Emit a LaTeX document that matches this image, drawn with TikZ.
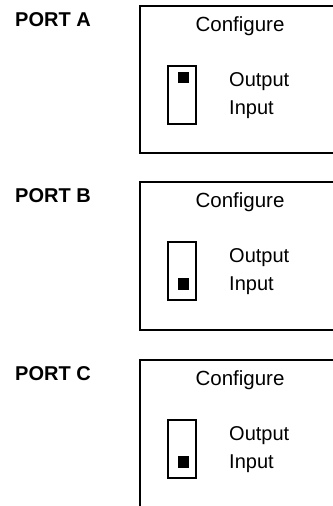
\documentclass[tikz,border=0pt]{standalone}
\usepackage{fontspec}
\setmainfont{Liberation Sans}
\begin{document}
\begin{tikzpicture}[x=1bp,y=-1bp,
  frame/.style={line width=2bp},
  sw/.style={draw,line width=1.8bp,minimum width=28bp,minimum height=57.5bp,inner sep=0pt},
  knob/.style={fill=black,minimum size=11.5bp,inner sep=0pt},
  lbl/.style={inner sep=0pt,anchor=base west,font=\fontsize{20bp}{22bp}\selectfont},
  port/.style={inner sep=0pt,anchor=base west,font=\fontsize{20bp}{22bp}\selectfont\bfseries},
  cfg/.style={inner sep=0pt,anchor=base,font=\fontsize{20.5bp}{22bp}\selectfont}]
\useasboundingbox (0,0) rectangle (332,506);
\foreach \n/\t/\oy in {A/A/6.3, B/B/182.3, C/C/360.3}{
  \node[port] (port\n) at (15,\oy+20) {PORT \t};
  \node[cfg] (cfg\n) at (240,\oy+25.5) {Configure};
  \node[sw] (sw\n) at (182.3,\oy+60+28.7) {};
  \node[lbl] (out\n) at (229,\oy+80) {Output};
  \node[lbl] (in\n) at (229,\oy+108.5) {Input};
}
\node[knob] (knobA) at (183.3,6.3+71) {};
\node[knob] (knobB) at (183.3,182.3+101.8) {};
\node[knob] (knobC) at (183.3,360.3+101.8) {};
\draw[frame] (334,6.3) -- (140.3,6.3) -- (140.3,153) -- (334,153);
\draw[frame] (334,182.3) -- (140.3,182.3) -- (140.3,329.7) -- (334,329.7);
\draw[frame] (334,360.3) -- (140.3,360.3) -- (140.3,508);
\end{tikzpicture}
\end{document}
